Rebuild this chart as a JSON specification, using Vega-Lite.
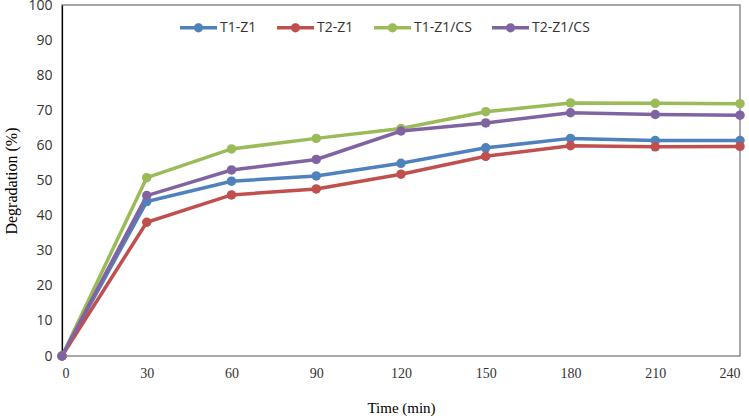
{
  "$schema": "https://vega.github.io/schema/vega-lite/v6.json",
  "width": 678,
  "height": 351,
  "autosize": {"type": "none"},
  "padding": {"left": 62, "top": 5, "right": 9, "bottom": 60},
  "background": "white",
  "config": {
    "view": {"stroke": "#8c8c8c", "strokeWidth": 1.5},
    "axis": {"grid": false, "ticks": false, "labelColor": "#333", "titleColor": "#000", "titleFontWeight": "normal"}
  },
  "data": {
    "values": [
      {"time": 0, "sample": "T1-Z1", "deg": 0},
      {"time": 30, "sample": "T1-Z1", "deg": 44.0},
      {"time": 60, "sample": "T1-Z1", "deg": 49.8},
      {"time": 90, "sample": "T1-Z1", "deg": 51.3},
      {"time": 120, "sample": "T1-Z1", "deg": 54.9},
      {"time": 150, "sample": "T1-Z1", "deg": 59.3},
      {"time": 180, "sample": "T1-Z1", "deg": 62.0},
      {"time": 210, "sample": "T1-Z1", "deg": 61.4},
      {"time": 240, "sample": "T1-Z1", "deg": 61.4},
      {"time": 0, "sample": "T2-Z1", "deg": 0},
      {"time": 30, "sample": "T2-Z1", "deg": 38.1},
      {"time": 60, "sample": "T2-Z1", "deg": 45.9},
      {"time": 90, "sample": "T2-Z1", "deg": 47.6},
      {"time": 120, "sample": "T2-Z1", "deg": 51.8},
      {"time": 150, "sample": "T2-Z1", "deg": 56.9},
      {"time": 180, "sample": "T2-Z1", "deg": 59.9},
      {"time": 210, "sample": "T2-Z1", "deg": 59.6},
      {"time": 240, "sample": "T2-Z1", "deg": 59.7},
      {"time": 0, "sample": "T1-Z1/CS", "deg": 0},
      {"time": 30, "sample": "T1-Z1/CS", "deg": 50.8},
      {"time": 60, "sample": "T1-Z1/CS", "deg": 59.0},
      {"time": 90, "sample": "T1-Z1/CS", "deg": 62.0},
      {"time": 120, "sample": "T1-Z1/CS", "deg": 64.8},
      {"time": 150, "sample": "T1-Z1/CS", "deg": 69.6},
      {"time": 180, "sample": "T1-Z1/CS", "deg": 72.1},
      {"time": 210, "sample": "T1-Z1/CS", "deg": 72.0},
      {"time": 240, "sample": "T1-Z1/CS", "deg": 71.9},
      {"time": 0, "sample": "T2-Z1/CS", "deg": 0},
      {"time": 30, "sample": "T2-Z1/CS", "deg": 45.7},
      {"time": 60, "sample": "T2-Z1/CS", "deg": 53.0},
      {"time": 90, "sample": "T2-Z1/CS", "deg": 56.0},
      {"time": 120, "sample": "T2-Z1/CS", "deg": 64.1},
      {"time": 150, "sample": "T2-Z1/CS", "deg": 66.4},
      {"time": 180, "sample": "T2-Z1/CS", "deg": 69.3},
      {"time": 210, "sample": "T2-Z1/CS", "deg": 68.8},
      {"time": 240, "sample": "T2-Z1/CS", "deg": 68.6}
    ]
  },
  "mark": {
    "type": "line",
    "strokeWidth": 3.5,
    "point": {"filled": true, "size": 90, "opacity": 1}
  },
  "encoding": {
    "x": {
      "field": "time",
      "type": "quantitative",
      "title": "Time (min)",
      "scale": {"domain": [0, 240], "nice": false},
      "axis": {
        "values": [0, 30, 60, 90, 120, 150, 180, 210, 240],
        "domain": false,
        "labelFont": "Liberation Serif",
        "labelFontSize": 14,
        "labelPadding": 10,
        "titleFont": "Liberation Serif",
        "titleFontSize": 15,
        "titleFontWeight": "normal",
        "titlePadding": 20
      }
    },
    "y": {
      "field": "deg",
      "type": "quantitative",
      "title": "Degradation (%)",
      "scale": {"domain": [0, 100], "nice": false},
      "axis": {
        "values": [0, 10, 20, 30, 40, 50, 60, 70, 80, 90, 100],
        "domainColor": "#000",
        "domainWidth": 1.2,
        "labelFont": "Open Sans",
        "labelFontSize": 14,
        "labelPadding": 10,
        "titleFont": "Liberation Serif",
        "titleFontSize": 16,
        "titleFontWeight": "normal",
        "titlePadding": 8
      }
    },
    "color": {
      "field": "sample",
      "type": "nominal",
      "sort": ["T1-Z1", "T2-Z1", "T1-Z1/CS", "T2-Z1/CS"],
      "scale": {
        "domain": ["T1-Z1", "T2-Z1", "T1-Z1/CS", "T2-Z1/CS"],
        "range": ["#4F81BD", "#C0504D", "#9BBB59", "#8064A2"]
      },
      "legend": {
        "title": null,
        "orient": "none",
        "direction": "horizontal",
        "legendX": 118,
        "legendY": 4,
        "symbolType": "M-1,-0.09H1V0.09H-1Z M0.25,0A0.25,0.25,0,1,1,-0.25,0A0.25,0.25,0,1,1,0.25,0Z",
        "symbolSize": 1369,
        "symbolStrokeWidth": 0,
        "labelFont": "Open Sans",
        "labelFontSize": 14,
        "labelColor": "#333",
        "labelOffset": 3,
        "columnPadding": 20
      }
    }
  }
}
